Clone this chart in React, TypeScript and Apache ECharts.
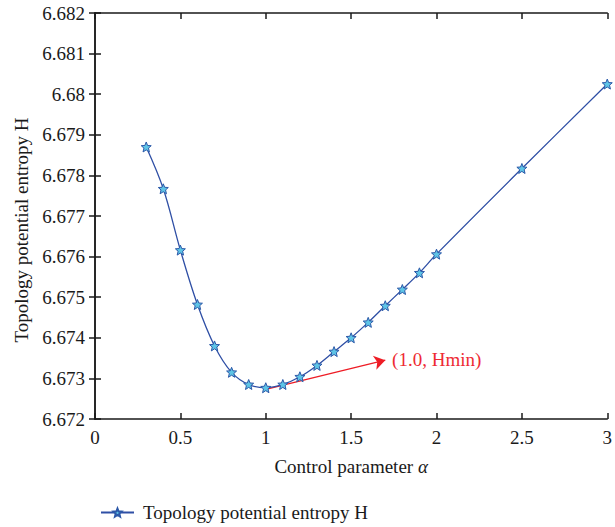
import React, { useEffect, useRef } from "react";
import * as echarts from "echarts";

const alphaValues = [0.3, 0.4, 0.5, 0.6, 0.7, 0.8, 0.9, 1.0, 1.1, 1.2, 1.3, 1.4, 1.5, 1.6, 1.7, 1.8, 1.9, 2.0, 2.5, 3.0];
const entropyValues = [6.6787, 6.67767, 6.67616, 6.67482, 6.6738, 6.67315, 6.67285, 6.67277, 6.67285, 6.67304, 6.67332, 6.67366, 6.674, 6.67438, 6.67479, 6.67519, 6.6756, 6.67606, 6.67817, 6.68025];
const seriesName = "Topology potential entropy H";
const arrowStart = [1.0, 6.67273];
const arrowEnd = [1.7, 6.67345];
const annotationText = "(1.0, Hmin)";

const FONT = "'Liberation Serif', 'DejaVu Serif', serif";
const FS = 19;
const INK = "#1a1a1a";

export default function App() {
  const ref = useRef<HTMLDivElement>(null);
  useEffect(() => {
    if (!ref.current) return;
    const chart = echarts.init(ref.current, null, { renderer: "svg" });
    const axisLine = { show: true, lineStyle: { color: INK, width: 1.5 } };
    const axisTick = { show: true, inside: true, length: 6, lineStyle: { color: INK, width: 1.5 } };
    chart.setOption({
      animation: false,
      textStyle: { fontFamily: FONT },
      grid: { left: 95, right: 5, top: 13, bottom: 108, containLabel: false },
      legend: {
        left: 95,
        top: 498,
        itemWidth: 33,
        itemHeight: 10,
        itemGap: 10,
        data: [seriesName],
        textStyle: { fontFamily: FONT, fontSize: FS, color: INK, padding: [0, 0, 0, 4] },
      },
      xAxis: [
        {
          type: "value",
          min: 0,
          max: 3,
          interval: 0.5,
          name: "Control parameter {i|α}",
          nameLocation: "middle",
          nameGap: 38,
          nameTextStyle: {
            fontFamily: FONT,
            fontSize: FS,
            color: INK,
            rich: { i: { fontStyle: "italic", fontFamily: FONT, fontSize: FS, color: INK } },
          },
          axisLine,
          axisTick,
          axisLabel: { fontFamily: FONT, fontSize: FS, color: INK, margin: 9 },
          splitLine: { show: false },
        },
        {
          type: "value",
          position: "top",
          min: 0,
          max: 3,
          interval: 0.5,
          axisLine,
          axisTick,
          axisLabel: { show: false },
          splitLine: { show: false },
        },
      ],
      yAxis: [
        {
          type: "value",
          min: 6.672,
          max: 6.682,
          interval: 0.001,
          name: "Topology potential entropy H",
          nameLocation: "middle",
          nameGap: 64,
          nameTextStyle: { fontFamily: FONT, fontSize: FS, color: INK, padding: [0, 28, 0, 0] },
          axisLine,
          axisTick,
          axisLabel: { fontFamily: FONT, fontSize: FS, color: INK, margin: 10 },
          splitLine: { show: false },
        },
        {
          type: "value",
          position: "right",
          min: 6.672,
          max: 6.682,
          interval: 0.001,
          axisLine,
          axisTick,
          axisLabel: { show: false },
          splitLine: { show: false },
        },
      ],
      series: [
        {
          name: seriesName,
          type: "line",
          smooth: 0.35,
          data: alphaValues.map((a, i) => [a, entropyValues[i]]),
          symbol: "path://M12,1 L15,8.5 L23,9 L17,14.2 L19,22.5 L12,18 L5,22.5 L7,14.2 L1,9 L9,8.5 Z",
          symbolSize: 10,
          itemStyle: { color: "#5ec4e6", borderColor: "#2c58a8", borderWidth: 1 },
          lineStyle: { color: "#2f4fa5", width: 1.3 },
          z: 3,
          markLine: {
            silent: true,
            symbol: ["none", "arrow"],
            symbolSize: 11,
            lineStyle: { color: "#ee1c25", width: 1.4, type: "solid" },
            itemStyle: { color: "#ee1c25" },
            label: { show: false },
            data: [[{ coord: arrowStart }, { coord: arrowEnd }]],
            z: 2,
          },
          markPoint: {
            silent: true,
            symbol: "circle",
            symbolSize: 0,
            data: [{ coord: [arrowEnd[0] + 0.04, arrowEnd[1] + 0.00002] }],
            label: {
              show: true,
              position: "right",
              distance: 0,
              formatter: annotationText,
              fontFamily: FONT,
              fontSize: FS,
              color: "#ee2a33",
            },
          },
        },
      ],
    });
    return () => chart.dispose();
  }, []);
  return <div ref={ref} style={{ width: 615, height: 527, position: "absolute", left: 0, top: 0 }} />;
}
